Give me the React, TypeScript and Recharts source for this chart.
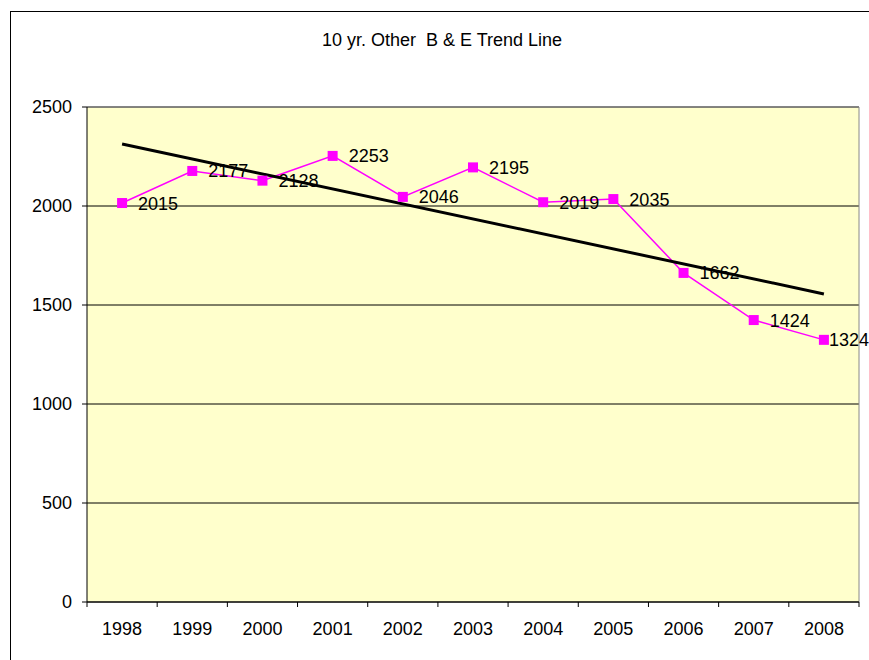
import { CartesianGrid, LabelList, Line, LineChart, ReferenceLine, XAxis, YAxis } from "recharts"

const years = ["1998", "1999", "2000", "2001", "2002", "2003", "2004", "2005", "2006", "2007", "2008"]
const breakAndEnter = [2015, 2177, 2128, 2253, 2046, 2195, 2019, 2035, 1662, 1424, 1324]
// linear trend, value at first and last year
const trendEnds = [2313, 1556]
const yTicks = [0, 500, 1000, 1500, 2000, 2500]

const data = years.map((year, i) => ({
  year,
  pos: i,
  value: breakAndEnter[i],
  trend: i === 0 ? trendEnds[0] : i === years.length - 1 ? trendEnds[1] : null,
}))

const font = "'Liberation Sans', Arial, sans-serif"
const fontSize = 18
const chartW = 862
const chartH = 650
const yAxisW = 76
const marginRight = 14
const labelGap = 20
const bandW = (chartW - yAxisW - marginRight) / years.length

const Square = (props: any) => {
  const { cx, cy, index } = props
  if (cx == null || cy == null) return <g key={index} />
  return <rect key={index} x={cx - 5} y={cy - 5} width={10} height={10} fill="#FF00FF" />
}

const PointLabel = (props: any) => {
  const { x, y, value } = props
  const w = String(value).length * 0.556 * fontSize
  // keep the last label inside the frame
  const left = Math.min(x + 16, chartW - 4 - w)
  return (
    <text x={left} y={y} dy="0.36em" fontSize={fontSize} fontFamily={font} fill="#000">
      {value}
    </text>
  )
}

// year label plus Excel-style tick marks between the categories
const YearTick = (props: any) => {
  const { x, y, payload, index } = props
  const axisY = y - labelGap
  const left = x - bandW / 2
  const right = x + bandW / 2
  return (
    <g>
      <line x1={left} x2={left} y1={axisY} y2={axisY + 5} stroke="#000" />
      {index === years.length - 1 && <line x1={right} x2={right} y1={axisY} y2={axisY + 5} stroke="#000" />}
      <text x={x} y={y} dy="0.71em" textAnchor="middle" fontSize={fontSize} fontFamily={font} fill="#000">
        {payload.value}
      </text>
    </g>
  )
}

export default function App() {
  return (
    <div
      style={{
        position: "fixed",
        left: 10,
        top: 11,
        width: chartW,
        height: chartH,
        border: "1px solid #000",
        background: "#fff",
        fontFamily: font,
      }}
    >
      <div
        style={{
          position: "absolute",
          left: 0,
          top: 18,
          width: chartW,
          textAlign: "center",
          fontSize,
          color: "#000",
          whiteSpace: "pre",
        }}
      >
        {"10 yr. Other  B & E Trend Line"}
      </div>
      <LineChart width={chartW} height={chartH} data={data} margin={{ top: 95, right: marginRight, left: 0, bottom: 20 }}>
        <CartesianGrid vertical={false} stroke="#000" fill="#FFFFCC" />
        <XAxis
          xAxisId="bounds"
          type="number"
          dataKey="pos"
          domain={[-0.5, years.length - 0.5]}
          tick={false}
          tickLine={false}
          axisLine={false}
          height={0}
          allowDataOverflow
        />
        <XAxis
          dataKey="year"
          scale="band"
          interval={0}
          tickLine={false}
          tickSize={0}
          tickMargin={labelGap}
          height={40}
          axisLine={{ stroke: "#000" }}
          tick={YearTick}
        />
        <YAxis
          domain={[0, 2500]}
          ticks={yTicks}
          width={yAxisW}
          tickSize={5}
          tickMargin={10}
          axisLine={{ stroke: "#000" }}
          tickLine={{ stroke: "#000" }}
          tick={{ fill: "#000", fontSize, fontFamily: font }}
        />
        <ReferenceLine y={2500} stroke="#888888" />
        <ReferenceLine xAxisId="bounds" x={years.length - 0.5} stroke="#888888" />
        <Line
          dataKey="value"
          stroke="#FF00FF"
          strokeWidth={1.5}
          dot={Square}
          activeDot={false}
          isAnimationActive={false}
        >
          <LabelList dataKey="value" content={PointLabel} />
        </Line>
        <Line
          dataKey="trend"
          stroke="#000"
          strokeWidth={3}
          dot={false}
          activeDot={false}
          connectNulls
          isAnimationActive={false}
        />
      </LineChart>
    </div>
  )
}
